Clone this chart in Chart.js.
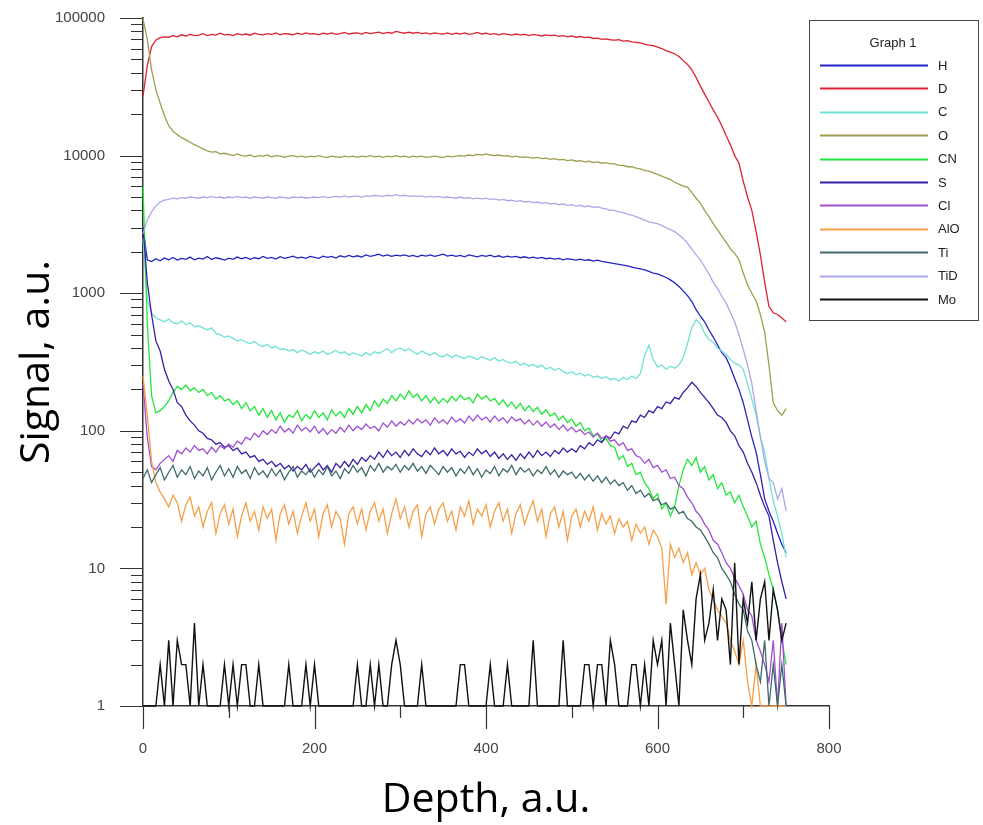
<!DOCTYPE html>
<html><head><meta charset="utf-8">
<script src="https://cdn.jsdelivr.net/npm/chart.js@4.4.1/dist/chart.umd.min.js"></script>
<style>html,body{margin:0;padding:0;background:#fff;}#wrap{width:983px;height:825px;}</style>
</head><body><div id="wrap"><canvas id="c" width="983" height="825"></canvas></div>
<script>
const depth = [
0,5,10,15,20,25,30,35,40,45,50,55,60,65,70,75,80,85,90,95,
100,105,110,115,120,125,130,135,140,145,150,155,160,165,170,175,180,185,190,195,
200,205,210,215,220,225,230,235,240,245,250,255,260,265,270,275,280,285,290,295,
300,305,310,315,320,325,330,335,340,345,350,355,360,365,370,375,380,385,390,395,
400,405,410,415,420,425,430,435,440,445,450,455,460,465,470,475,480,485,490,495,
500,505,510,515,520,525,530,535,540,545,550,555,560,565,570,575,580,585,590,595,
600,605,610,615,620,625,630,635,640,645,650,655,660,665,670,675,680,685,690,695,
700,705,710,715,720,725,730,735,740,745,750];

const H = [
3000,1750,1700,1780,1720,1800,1750,1820,1740,1790,
1760,1830,1750,1800,1770,1850,1760,1810,1780,1740,
1800,1760,1830,1780,1820,1760,1810,1780,1850,1790,
1820,1770,1840,1790,1820,1860,1800,1830,1790,1850,
1820,1790,1860,1820,1850,1800,1870,1830,1880,1840,
1870,1830,1900,1850,1880,1920,1860,1900,1850,1890,
1870,1900,1850,1880,1840,1890,1860,1900,1850,1880,
1920,1860,1890,1850,1880,1840,1900,1870,1840,1880,
1850,1890,1840,1870,1820,1860,1830,1850,1810,1840,
1800,1830,1790,1820,1780,1800,1770,1790,1750,1780,
1760,1740,1770,1730,1750,1710,1740,1700,1680,1660,
1640,1620,1600,1580,1550,1520,1500,1480,1440,1400,
1380,1340,1300,1250,1190,1120,1040,960,870,760,
680,620,540,480,420,370,340,290,240,200,
160,120,90,70,48,32,26,22,18,15,
13];

const D = [
27000,45000,62000,69000,72000,73000,72500,74500,73000,75500,
74000,76000,74500,75000,77000,74500,76000,75000,77500,75500,
76000,74500,77000,75500,76500,75000,77500,76000,75500,77000,
76000,78000,75500,77000,76500,75500,77500,76000,78000,76500,
77000,75500,77500,76500,78000,76000,77000,78500,76500,77500,
78000,76500,78500,77000,78000,79000,77000,78500,77500,80000,
78500,77500,79000,77500,78500,77000,78000,76500,78000,77000,
76500,78000,76000,77500,76500,78000,76000,77000,78500,76500,
77500,76000,77000,75500,77000,76000,75000,76500,75500,76000,
74500,76000,75000,74000,75500,74500,75000,73500,74500,73000,
74000,72500,73500,72000,72500,71000,71500,70000,70500,69500,
69000,69500,68000,68500,67000,66500,66000,64500,63500,63000,
61500,60000,58000,56500,55000,52500,49000,46000,42000,37000,
32000,28000,24500,21500,19000,16500,14000,12000,10000,8800,
6500,5000,4000,2800,1900,1200,800,720,700,660,
620];

const C = [
2500,900,720,660,640,620,650,610,600,630,
590,610,570,580,560,540,560,510,500,480,
490,470,450,460,440,430,445,420,410,425,
400,410,390,395,380,390,370,385,375,360,
375,365,380,360,370,385,365,375,355,370,
360,350,370,355,375,365,380,395,370,390,
400,380,395,375,360,380,365,355,370,350,
345,360,340,355,345,335,350,340,330,345,
335,325,340,320,330,315,310,320,300,310,
295,305,290,300,280,290,275,285,270,260,
270,255,262,250,258,245,250,240,248,235,
240,230,245,235,250,240,260,350,420,330,
290,300,280,295,285,300,340,430,560,640,
600,510,460,440,400,380,360,330,310,300,
280,220,170,130,90,70,45,31,24,18,
12];

const O = [
98000,70000,42000,30000,24000,19500,16500,15000,14200,13500,
13000,12500,12000,11600,11200,10800,10600,10700,10300,10400,
10200,10000,10300,10000,9900,10100,9800,10000,9900,10100,
9800,10000,9900,9700,9900,10000,9800,9900,9700,9900,
9800,10000,9800,9700,9900,9800,9700,9900,9800,9900,
9700,9900,9800,10000,9800,9900,9700,9900,9800,10000,
9800,9900,9700,9900,9800,9900,9700,9800,9900,9800,
9700,9900,9800,9900,10000,9900,10100,10000,10200,10100,
10300,10100,10000,10100,9900,10000,9800,9900,9700,9800,
9700,9600,9700,9500,9600,9400,9500,9300,9400,9200,
9300,9100,9200,9000,9100,8900,9000,8800,8900,8700,
8700,8500,8500,8300,8300,8100,8000,7800,7700,7500,
7300,7100,6900,6700,6400,6200,6000,5900,5400,4900,
4500,4000,3600,3200,2900,2600,2350,2100,1950,1750,
1400,1150,1000,880,700,520,300,160,140,130,
145];

const CN = [
6000,600,180,135,140,150,165,190,210,200,
215,195,205,190,200,180,190,170,180,165,
170,155,165,145,160,140,150,130,145,125,
140,120,135,115,130,125,140,118,132,122,
140,125,135,120,142,128,138,125,145,132,
150,135,155,140,165,150,170,158,180,165,
185,170,195,175,185,165,180,160,175,158,
172,160,178,165,182,168,175,160,185,170,
180,165,172,155,168,150,162,145,158,140,
152,138,148,132,142,128,135,120,128,115,
122,108,115,100,105,92,95,84,88,78,
76,62,66,55,58,48,50,42,38,32,
35,27,30,24,28,40,52,62,56,64,
50,55,44,48,38,42,34,36,30,34,
28,24,20,22,15,12,9,7,5,3,
2];

const S = [
3000,1200,700,450,380,280,230,200,160,150,
130,118,110,100,96,88,86,80,82,76,
78,72,75,68,70,64,66,60,62,57,
60,55,58,53,56,51,55,52,57,50,
54,58,52,56,50,58,54,60,55,62,
57,64,60,66,62,70,64,72,66,70,
64,72,66,74,68,65,72,67,75,68,
72,66,74,68,71,64,70,66,74,68,
72,65,70,63,68,62,67,61,68,63,
70,64,72,66,70,65,72,68,75,70,
74,70,78,74,82,78,86,82,92,88,
98,95,108,104,118,115,130,125,140,135,
150,145,162,158,175,170,190,205,225,210,
190,175,160,145,130,125,115,100,92,78,
70,58,50,42,34,28,24,16,11,8,
6];

const Cl = [
220,90,55,52,58,62,66,60,72,68,
75,70,78,72,74,68,76,70,78,74,
80,76,84,80,90,86,96,90,100,94,
102,96,108,98,104,96,110,100,106,98,
108,96,104,94,102,96,106,98,110,100,
108,102,112,104,108,100,114,106,118,108,
116,110,120,112,122,114,120,110,124,114,
120,112,126,116,122,114,128,118,130,120,
126,116,128,118,124,114,126,118,122,112,
120,110,118,108,116,106,112,102,110,100,
106,98,102,94,98,90,96,88,92,84,
86,78,82,72,74,66,64,58,62,54,
56,50,52,45,46,40,38,33,30,26,
24,21,19,16,15,13,11,10,8.5,7.5,
6.5,5,4.5,3,2.5,2,1.5,3,1,4,
1];

const AlO = [
250,130,60,42,36,32,28,34,30,22,
29,33,24,28,20,26,30,18,25,29,
21,27,17,24,30,22,26,19,28,23,
27,16,25,29,21,26,18,24,30,22,
27,17,25,29,20,26,23,15,25,28,
21,27,19,26,30,22,27,18,25,32,
23,28,20,26,29,17,25,28,21,27,
30,22,26,19,28,24,31,21,27,24,
29,20,26,30,22,27,18,25,29,21,
26,31,22,27,17,25,28,20,26,16,
24,27,20,26,22,28,19,25,21,24,
18,23,20,22,16,21,18,20,15,19,
17,14,5.5,15,12,14,11,13,9,11,
9,10,7,6,5,4.5,4,3,2.5,2,
3,1.5,1,2,1,1,1,1,1,1,
1];

const Ti = [
45,52,42,48,54,44,50,56,46,52,
48,55,45,51,47,54,44,50,56,47,
53,46,55,49,52,45,54,48,51,46,
53,47,52,44,50,55,46,51,48,53,
46,52,48,55,47,51,45,53,49,56,
50,54,47,56,51,58,50,55,52,57,
50,56,52,58,51,55,49,56,52,48,
55,50,54,47,53,49,55,48,53,46,
52,49,55,47,53,50,56,48,54,50,
53,47,52,49,55,48,52,46,51,48,
50,45,49,44,48,43,47,42,46,41,
44,40,42,37,40,35,37,33,35,31,
32,29,30,27,28,25,26,23,22,20,
19,17,15,13,12,10,9,8,6.5,5.5,
5,3.5,3,2,1.5,3,1,2,1,2,
1];

const TiD = [
2700,3400,3900,4300,4600,4750,4800,4900,4850,4950,
4900,5000,4950,4900,5000,4950,5050,4950,5000,4900,
5000,4950,5050,4950,5000,4900,5000,4950,4900,5000,
4950,4900,5000,4950,4900,5000,4950,5000,4900,4950,
5000,4950,5050,4950,5000,5050,5000,5100,5000,5050,
5100,5000,5100,5050,5150,5100,5050,5150,5100,5200,
5100,5150,5050,5100,5050,5100,5000,5050,5000,5050,
4950,5000,4950,4900,5000,4900,4950,4850,4900,4850,
4900,4800,4850,4750,4800,4700,4750,4650,4700,4600,
4650,4550,4600,4500,4550,4450,4500,4400,4450,4350,
4400,4300,4350,4250,4300,4200,4250,4150,4100,4000,
4000,3900,3850,3750,3700,3600,3500,3400,3300,3250,
3200,3100,3000,2900,2800,2650,2500,2300,2100,1900,
1750,1550,1380,1200,1080,950,850,720,620,500,
390,300,220,140,90,60,45,42,32,38,
26];

const Mo = [
1,1,1,1,2,1,3,1,3,2,
2,1,4,1,2,1,1,1,1,2,
1,2,1,2,2,1,1,2,1,1,
1,1,1,1,2,1,1,1,2,1,
2,1,1,1,1,1,1,1,1,1,
2,1,1,2,1,2,1,1,2,3,
2,1,1,1,1,2,1,1,1,1,
1,1,1,1,2,2,1,1,1,1,
1,2,1,1,1,2,1,1,1,1,
1,3,1,1,1,1,1,1,3,1,
1,1,1,2,2,1,2,2,1,3,
2,1,1,1,2,2,1,2,1,3,
2,3,1,4,2,1,5,3,2,6,
9,3,4,7,3,6,5,2,11,2,
6,4,8,3,6,8,3,7,5,3,
4];

const seriesNames = ['H','D','C','O','CN','S','Cl','AlO','Ti','TiD','Mo'];
const seriesValues = [H, D, C, O, CN, S, Cl, AlO, Ti, TiD, Mo];
const seriesColors = ['#2424c4','#dd2233','#70e2d2','#9e9e4e','#22e63a','#3a1ea6','#a04fd2','#f5a048','#3f6a6a','#a9a9ea','#111111'];
const xTicks = [0,200,400,600,800];
const xMinorTicks = [100,300,500,700];
const yTicks = [1,10,100,1000,10000,100000];
const legendTitle = 'Graph 1';

const datasets = seriesNames.map((name, i) => ({
  label: name,
  data: depth.map((d, k) => ({x: d, y: seriesValues[i][k]})),
  borderColor: seriesColors[i],
  backgroundColor: seriesColors[i],
  borderWidth: name === 'Mo' ? 1.4 : 1.3,
  pointRadius: 0,
  tension: 0,
  fill: false,
  clip: false,
  order: seriesNames.length - 1 - i
}));

const tickMarks = {
  id: 'tickMarks',
  afterDraw(chart) {
    const ctx = chart.ctx, xs = chart.scales.x, ys = chart.scales.y, a = chart.chartArea;
    ctx.save();
    ctx.strokeStyle = '#333';
    ctx.lineWidth = 1.2;
    ctx.beginPath();
    xTicks.forEach(v => { const p = Math.round(xs.getPixelForValue(v)) + 0.5; ctx.moveTo(p, a.bottom); ctx.lineTo(p, a.bottom + 23); });
    xMinorTicks.forEach(v => { const p = Math.round(xs.getPixelForValue(v)) + 0.5; ctx.moveTo(p, a.bottom); ctx.lineTo(p, a.bottom + 12); });
    yTicks.forEach(v => { const p = Math.round(ys.getPixelForValue(v)) + 0.5; ctx.moveTo(a.left - 23, p); ctx.lineTo(a.left, p); });
    yTicks.slice(0, -1).forEach(dec => {
      for (let m = 2; m <= 9; m++) {
        const p = Math.round(ys.getPixelForValue(dec * m)) + 0.5;
        ctx.moveTo(a.left - 12, p); ctx.lineTo(a.left, p);
      }
    });
    ctx.stroke();
    ctx.restore();
  }
};

const legendBox = {
  id: 'legendBox',
  afterDraw(chart) {
    const ctx = chart.ctx;
    const bx = 809, by = 20, bw = 169, bh = 300;
    ctx.save();
    ctx.fillStyle = '#ffffff';
    ctx.fillRect(bx, by, bw, bh);
    ctx.strokeStyle = '#444';
    ctx.lineWidth = 1;
    ctx.strokeRect(bx + 0.5, by + 0.5, bw, bh);
    ctx.fillStyle = '#222';
    ctx.font = '13px "Liberation Sans", Arial, sans-serif';
    ctx.textAlign = 'center';
    ctx.textBaseline = 'middle';
    ctx.fillText(legendTitle, 893, 43);
    ctx.textAlign = 'left';
    chart.data.datasets.forEach((ds, i) => {
      const yy = 65 + i * 23.4;
      ctx.strokeStyle = ds.borderColor;
      ctx.lineWidth = 1.8;
      ctx.beginPath();
      ctx.moveTo(820, Math.round(yy) + 0.5);
      ctx.lineTo(928, Math.round(yy) + 0.5);
      ctx.stroke();
      ctx.fillStyle = '#222';
      ctx.fillText(ds.label, 938, yy + 1);
    });
    ctx.restore();
  }
};

const hiddenGrid = (len) => ({ display: true, drawOnChartArea: false, drawTicks: true, tickLength: len, color: 'rgba(0,0,0,0)', tickColor: 'rgba(0,0,0,0)' });

new Chart(document.getElementById('c'), {
  type: 'line',
  data: { datasets },
  plugins: [tickMarks, legendBox],
  options: {
    responsive: false,
    animation: false,
    devicePixelRatio: 1,
    layout: { padding: { top: 18, right: 154, left: 0, bottom: 0 } },
    plugins: { legend: { display: false }, tooltip: { enabled: false } },
    scales: {
      x: {
        type: 'linear', min: 0, max: 800,
        afterBuildTicks: s => { s.ticks = xTicks.map(v => ({ value: v })); },
        afterFit: s => { s.height = 119; },
        grid: hiddenGrid(34),
        border: { display: true, color: '#333', width: 1.5 },
        ticks: { padding: 0, color: '#444', font: { family: 'Liberation Sans', size: 15 }, maxRotation: 0, autoSkip: false, callback: v => String(v) },
        title: { display: true, text: 'Depth, a.u.', color: '#000', font: { family: 'Open Sans', size: 41, weight: 'normal' }, padding: { top: 0, bottom: 0 } }
      },
      y: {
        type: 'logarithmic', min: 1, max: 100000,
        afterBuildTicks: s => { s.ticks = yTicks.map(v => ({ value: v })); },
        afterFit: s => { s.width = 143; },
        grid: hiddenGrid(38),
        border: { display: true, color: '#333', width: 1.5 },
        ticks: { padding: 0, color: '#444', font: { family: 'Liberation Sans', size: 15 }, autoSkip: false, callback: v => String(v) },
        title: { display: true, text: 'Signal, a.u.', color: '#000', font: { family: 'Open Sans', size: 41, weight: 'normal' }, padding: { top: 13, bottom: 0 } }
      }
    }
  }
});
</script></body></html>
